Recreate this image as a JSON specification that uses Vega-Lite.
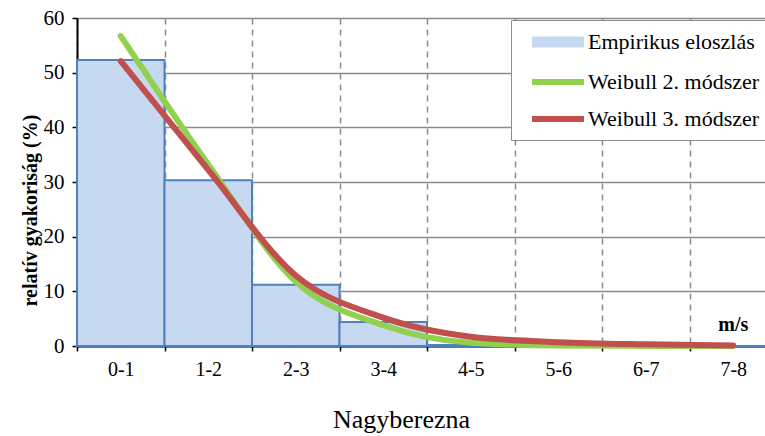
{
  "$schema": "https://vega.github.io/schema/vega-lite/v6.json",
  "width": 688,
  "height": 328,
  "autosize": "none",
  "padding": {"left": 77, "top": 18, "right": 0, "bottom": 90},
  "background": "white",
  "datasets": {
    "bars": [
      {"cat": "0-1", "series": "Empirikus eloszlás", "value": 52.3},
      {"cat": "1-2", "series": "Empirikus eloszlás", "value": 30.3},
      {"cat": "2-3", "series": "Empirikus eloszlás", "value": 11.2},
      {"cat": "3-4", "series": "Empirikus eloszlás", "value": 4.4},
      {"cat": "4-5", "series": "Empirikus eloszlás", "value": 0.2},
      {"cat": "5-6", "series": "Empirikus eloszlás", "value": 0.1},
      {"cat": "6-7", "series": "Empirikus eloszlás", "value": 0.05},
      {"cat": "7-8", "series": "Empirikus eloszlás", "value": 0.02}
    ],
    "lines": [
      {"cat": "0-1", "series": "Weibull 2. módszer", "value": 56.7},
      {"cat": "1-2", "series": "Weibull 2. módszer", "value": 33.2},
      {"cat": "2-3", "series": "Weibull 2. módszer", "value": 11.8},
      {"cat": "3-4", "series": "Weibull 2. módszer", "value": 3.8},
      {"cat": "4-5", "series": "Weibull 2. módszer", "value": 0.6},
      {"cat": "5-6", "series": "Weibull 2. módszer", "value": 0.1},
      {"cat": "6-7", "series": "Weibull 2. módszer", "value": 0.02},
      {"cat": "7-8", "series": "Weibull 2. módszer", "value": 0.0},
      {"cat": "0-1", "series": "Weibull 3. módszer", "value": 52.1},
      {"cat": "1-2", "series": "Weibull 3. módszer", "value": 32.2},
      {"cat": "2-3", "series": "Weibull 3. módszer", "value": 12.9},
      {"cat": "3-4", "series": "Weibull 3. módszer", "value": 5.2},
      {"cat": "4-5", "series": "Weibull 3. módszer", "value": 1.7},
      {"cat": "5-6", "series": "Weibull 3. módszer", "value": 0.7},
      {"cat": "6-7", "series": "Weibull 3. módszer", "value": 0.3},
      {"cat": "7-8", "series": "Weibull 3. módszer", "value": 0.1}
    ],
    "labels": [
      {"cat": "7-8", "value": 3.8, "label": "m/s"}
    ]
  },
  "layer": [
    {
      "data": {"name": "bars"},
      "mark": {"type": "bar", "stroke": "#4f81bd", "strokeWidth": 2},
      "encoding": {
        "x": {
          "field": "cat", "type": "nominal", "sort": null,
          "scale": {"type": "band", "paddingInner": 0, "paddingOuter": 0, "range": [0, 700]},
          "axis": {
            "title": "Nagyberezna",
            "titleFont": "Liberation Serif",
            "titleFontSize": 26,
            "titleFontWeight": "normal",
            "titleColor": "black",
            "titleX": 324,
            "titlePadding": 27,
            "labelAngle": 0,
            "labelFont": "Liberation Serif",
            "labelFontSize": 20,
            "labelColor": "black",
            "labelPadding": 8,
            "tickBand": "extent",
            "grid": true,
            "gridDash": [6, 5],
            "gridColor": "#8c8c8c",
            "gridWidth": 1.5,
            "domainColor": "black",
            "domainWidth": 2,
            "tickColor": "black",
            "tickSize": 5,
            "tickWidth": 1.5
          }
        },
        "y": {
          "field": "value", "type": "quantitative",
          "scale": {"domain": [0, 60], "nice": false},
          "axis": {
            "title": "relatív gyakoriság (%)",
            "titleFont": "Liberation Serif",
            "titleFontSize": 20,
            "titleFontWeight": "bold",
            "titleColor": "black",
            "titlePadding": 3,
            "titleY": 192,
            "values": [0, 10, 20, 30, 40, 50, 60],
            "labelFont": "Liberation Serif",
            "labelFontSize": 21,
            "labelColor": "black",
            "labelPadding": 8,
            "grid": true,
            "gridColor": "#8c8c8c",
            "gridWidth": 1.5,
            "domainColor": "black",
            "domainWidth": 2,
            "tickColor": "black",
            "tickSize": 5,
            "tickWidth": 1.5
          }
        },
        "color": {
          "field": "series", "type": "nominal",
          "scale": {
            "domain": ["Empirikus eloszlás", "Weibull 2. módszer", "Weibull 3. módszer"],
            "range": ["#c6d9f1", "#92d050", "#c0504d"]
          },
          "legend": {
            "title": null,
            "orient": "none",
            "legendX": 434,
            "legendY": 2,
            "fillColor": "white",
            "strokeColor": "#8c8c8c",
            "padding": 9,
            "labelFont": "Liberation Serif",
            "labelFontSize": 22,
            "labelColor": "black",
            "labelLimit": 400,
            "symbolOffset": 25,
            "labelOffset": 17,
            "rowPadding": 12,
            "symbolSize": 400,
            "symbolStrokeWidth": 6,
            "symbolType": {"expr": "datum.value === 'Empirikus eloszlás' ? 'M-2.3,-0.25H2.3V0.25H-2.3Z' : 'M-2.6,0H2.6'"}
          }
        }
      }
    },
    {
      "data": {"name": "lines"},
      "mark": {"type": "line", "strokeWidth": 6, "strokeCap": "round", "interpolate": "monotone"},
      "encoding": {
        "x": {"field": "cat", "type": "nominal", "sort": null},
        "y": {"field": "value", "type": "quantitative"},
        "color": {"field": "series", "type": "nominal"},
        "order": {"field": "series"}
      }
    },
    {
      "data": {"name": "labels"},
      "mark": {"type": "text", "font": "Liberation Serif", "fontSize": 20, "fontWeight": "bold", "color": "black", "baseline": "middle"},
      "encoding": {
        "x": {"field": "cat", "type": "nominal", "sort": null},
        "y": {"field": "value", "type": "quantitative"},
        "text": {"field": "label"}
      }
    }
  ],
  "config": {"view": {"stroke": null}, "font": "Liberation Serif"}
}
